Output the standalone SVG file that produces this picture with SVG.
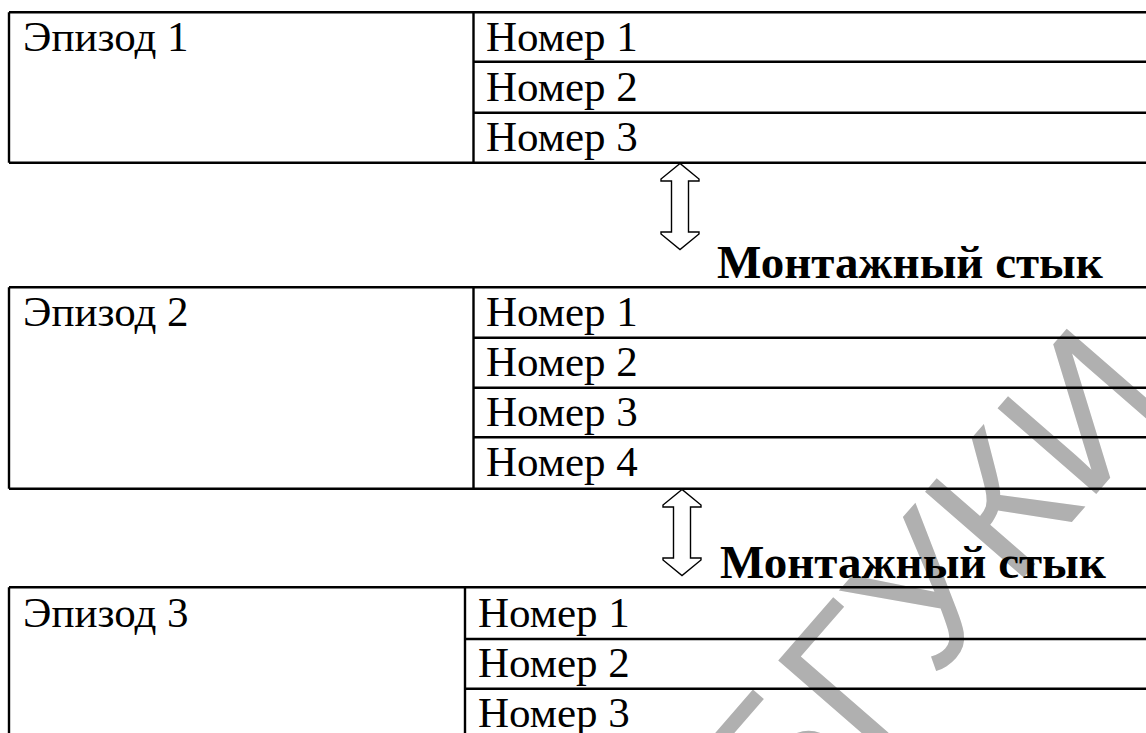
<svg xmlns="http://www.w3.org/2000/svg" width="1146" height="733" viewBox="0 0 1146 733">
  <style>
    .cell { font-family: "Liberation Serif", "Times New Roman", serif; font-size: 43px; fill: #000; }
    .joint { font-family: "Liberation Serif", "Times New Roman", serif; font-size: 47px; font-weight: bold; fill: #000; }
    .rule { stroke: #000; stroke-width: 2.4; fill: none; }
    .arrow { stroke: #000; stroke-width: 1.4; fill: #fff; stroke-linejoin: miter; }
    .mark { font-family: "Liberation Sans", Arial, sans-serif; font-size: 190px; fill: #b0b0b0; }
  </style>
  <defs>
    <!-- hollow double-headed arrow, centred on x=0, spanning y=0..86 -->
    <path id="dbl" d="M0,0 L-19,15.5 L-19,17.5 L-8.5,17.5 L-8.5,68.5 L-19,68.5 L-19,70.5 L0,86 L19,70.5 L19,68.5 L8.5,68.5 L8.5,17.5 L19,17.5 L19,15.5 Z"/>
  </defs>
  <rect width="1146" height="733" fill="#fff"/>

  <!-- library stamp -->
  <text class="mark" transform="translate(785,852) rotate(-49)">БГУКИ</text>

  <g id="episode1">
    <path class="rule" d="M9,12.3 H1146 M9,162.7 H1146 M9,12.3 V162.7 M473.5,12.3 V162.7 M473.5,61.7 H1146 M473.5,112.7 H1146"/>
    <text class="cell" x="23" y="50.5">Эпизод 1</text>
    <text class="cell" x="486" y="50.5">Номер 1</text>
    <text class="cell" x="486" y="100.5">Номер 2</text>
    <text class="cell" x="486" y="151">Номер 3</text>
  </g>

  <g id="episode2">
    <path class="rule" d="M9,287.3 H1146 M9,488.7 H1146 M9,287.3 V488.7 M473.5,287.3 V488.7 M473.5,337.7 H1146 M473.5,387.7 H1146 M473.5,437.3 H1146"/>
    <text class="cell" x="23" y="326">Эпизод 2</text>
    <text class="cell" x="486" y="326">Номер 1</text>
    <text class="cell" x="486" y="376">Номер 2</text>
    <text class="cell" x="486" y="426">Номер 3</text>
    <text class="cell" x="486" y="476">Номер 4</text>
  </g>

  <g id="episode3">
    <path class="rule" d="M9,587.3 H1146 M9,587.3 V733 M465,587.3 V733 M465,639 H1146 M465,688.7 H1146"/>
    <text class="cell" x="23" y="626.5">Эпизод 3</text>
    <text class="cell" x="478" y="626.5">Номер 1</text>
    <text class="cell" x="478" y="677">Номер 2</text>
    <text class="cell" x="478" y="727">Номер 3</text>
  </g>

  <g id="connectors">
    <use href="#dbl" class="arrow" x="680" y="163.5"/>
    <use href="#dbl" class="arrow" x="682" y="489.5"/>
  </g>

  <g id="joint-labels">
    <text class="joint" x="717" y="278">Монтажный стык</text>
    <text class="joint" x="720" y="577.5">Монтажный стык</text>
  </g>
</svg>
